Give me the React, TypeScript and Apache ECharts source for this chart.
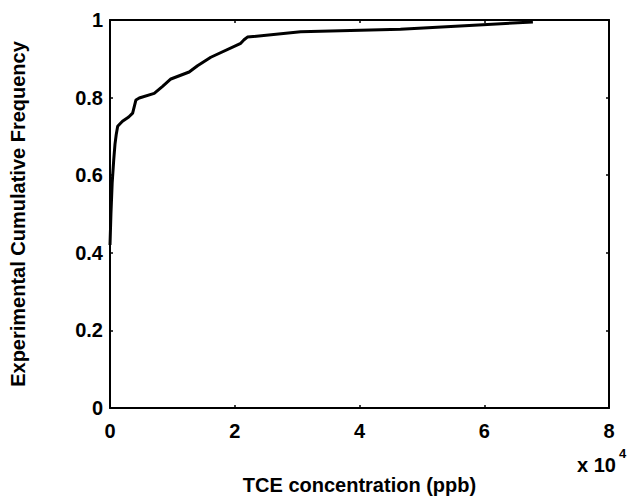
import React, { useEffect, useRef } from "react";
import * as echarts from "echarts";

// TCE concentration (ppb) and experimental cumulative frequency
const concentration = [
  0, 150, 350, 600, 800, 1000, 1230, 2000, 3000, 3630, 4160, 4690, 7090, 8430,
  9760, 12690, 14030, 16160, 20960, 21490, 22030, 30560, 46560, 59800, 67800,
];
const cumFreq = [
  0.42, 0.5, 0.58, 0.64, 0.68, 0.705, 0.726, 0.739, 0.75, 0.76, 0.794, 0.799,
  0.811, 0.829, 0.848, 0.866, 0.882, 0.904, 0.94, 0.949, 0.956, 0.97, 0.976,
  0.988, 0.995,
];
const xTicks = [0, 20000, 40000, 60000, 80000];
const yTicks = [0, 0.2, 0.4, 0.6, 0.8, 1];

const FONT = "'Liberation Sans', Arial, Helvetica, sans-serif";

export default function App() {
  const ref = useRef<HTMLDivElement>(null);
  useEffect(() => {
    document.body.style.margin = "0";
    if (!ref.current) return;
    const chart = echarts.init(ref.current, undefined, { renderer: "svg" });
    const axisLine = { show: true, onZero: false, lineStyle: { color: "#000", width: 2 } };
    const tick = { show: true, inside: true, length: 3, lineStyle: { color: "#000", width: 1.5 } };
    const labelStyle = { color: "#000", fontSize: 20, fontWeight: "bold" as const, fontFamily: FONT };
    const xMin = xTicks[0];
    const xMax = xTicks[xTicks.length - 1];
    const xInt = xTicks[1] - xTicks[0];
    const yMin = yTicks[0];
    const yMax = yTicks[yTicks.length - 1];
    const yInt = 0.2;
    chart.setOption({
      animation: false,
      backgroundColor: "#fff",
      grid: { left: 109, right: 20, top: 20, bottom: 91, containLabel: false },
      xAxis: [
        {
          type: "value",
          position: "bottom",
          min: xMin,
          max: xMax,
          interval: xInt,
          axisLine,
          axisTick: tick,
          splitLine: { show: false },
          axisLabel: {
            ...labelStyle,
            margin: 13,
            formatter: (v: number) => String(v / 10000),
          },
          name: "TCE concentration (ppb)",
          nameLocation: "middle",
          nameGap: 67,
          nameTextStyle: { color: "#000", fontSize: 20, fontWeight: "bold", fontFamily: FONT },
        },
        {
          type: "value",
          position: "top",
          min: xMin,
          max: xMax,
          interval: xInt,
          axisLine,
          axisTick: tick,
          splitLine: { show: false },
          axisLabel: { show: false },
        },
      ],
      yAxis: [
        {
          type: "value",
          position: "left",
          min: yMin,
          max: yMax,
          interval: yInt,
          axisLine,
          axisTick: tick,
          splitLine: { show: false },
          axisLabel: {
            ...labelStyle,
            margin: 7,
            formatter: (v: number) => String(Math.round(v * 10) / 10),
          },
          name: "Experimental Cumulative Frequency",
          nameLocation: "middle",
          nameGap: 82,
          nameTextStyle: { color: "#000", fontSize: 20, fontWeight: "bold", fontFamily: FONT },
        },
        {
          type: "value",
          position: "right",
          min: yMin,
          max: yMax,
          interval: yInt,
          axisLine,
          axisTick: tick,
          splitLine: { show: false },
          axisLabel: { show: false },
        },
      ],
      series: [
        {
          type: "line",
          data: concentration.map((c, i) => [c, cumFreq[i]]),
          showSymbol: false,
          symbol: "none",
          lineStyle: { color: "#000", width: 3 },
          xAxisIndex: 0,
          yAxisIndex: 0,
        },
      ],
      graphic: [
        {
          type: "text",
          x: 577,
          y: 465,
          style: {
            text: "x 10",
            fill: "#000",
            font: `bold 20px ${FONT}`,
            verticalAlign: "middle",
            align: "left",
          },
        },
        {
          type: "text",
          x: 619,
          y: 453,
          style: {
            text: "4",
            fill: "#000",
            font: `bold 13px ${FONT}`,
            verticalAlign: "middle",
            align: "left",
          },
        },
      ],
    });
    return () => chart.dispose();
  }, []);
  return <div ref={ref} style={{ width: 629, height: 500 }} />;
}
